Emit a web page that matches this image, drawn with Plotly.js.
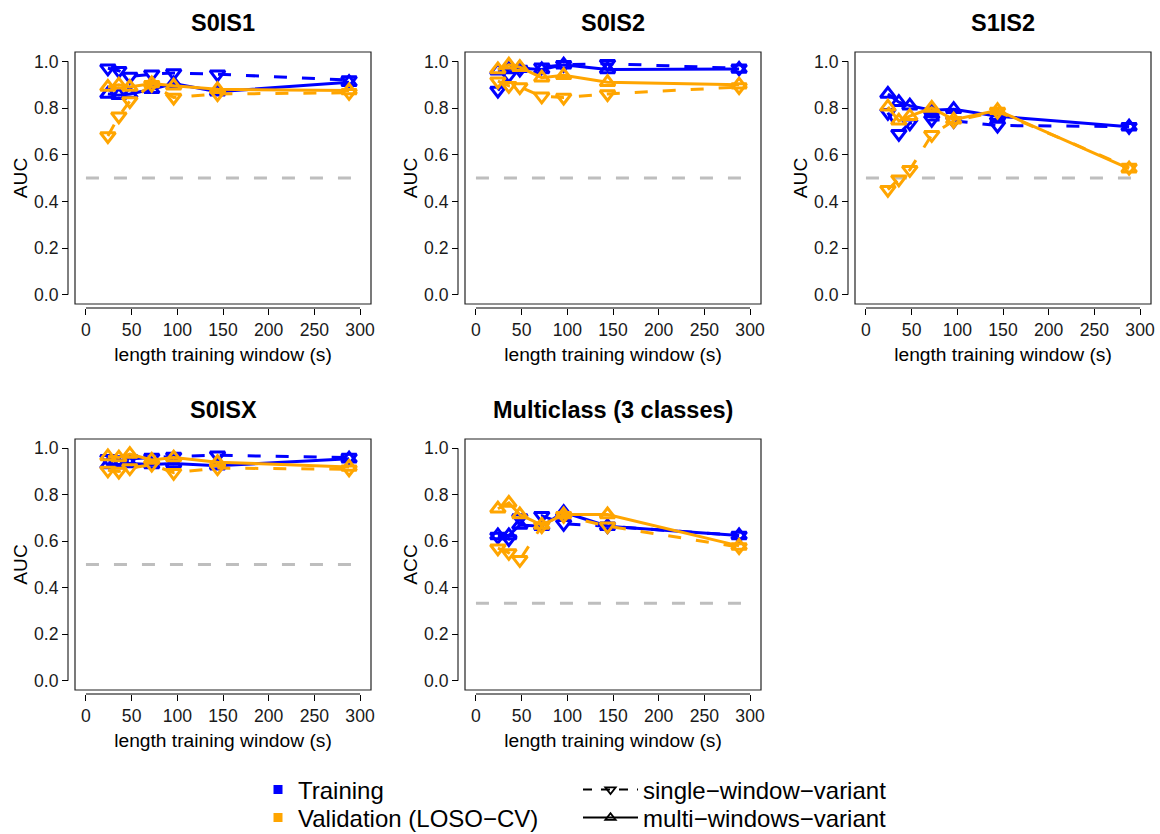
<!DOCTYPE html>
<html>
<head>
<meta charset="utf-8">
<script src="https://cdn.plot.ly/plotly-3.0.1.min.js"></script>
<style>html,body{margin:0;padding:0;background:#fff;}#chart{width:1160px;height:834px;}</style>
</head>
<body>
<div id="chart"></div>
<script>
// ---------------- data ----------------
const windowLengths = [24, 36, 48, 72, 96, 144, 288];
const panelTitles = ['S0IS1', 'S0IS2', 'S1IS2', 'S0ISX', 'Multiclass (3 classes)'];
const yTitles = ['AUC', 'AUC', 'AUC', 'AUC', 'ACC'];
const chanceLevels = [0.5, 0.5, 0.5, 0.5, 0.333];
const xTicks = [0, 50, 100, 150, 200, 250, 300];
const yTicks = [0, 0.2, 0.4, 0.6, 0.8, 1.0];

// Training, single-window-variant
const trainSingle_S0S1 = [0.97, 0.96, 0.935, 0.945, 0.95, 0.945, 0.92];
const trainSingle_S0S2 = [0.875, 0.94, 0.965, 0.975, 0.985, 0.99, 0.97];
const trainSingle_S1S2 = [0.78, 0.69, 0.735, 0.75, 0.745, 0.725, 0.72];
const trainSingle_S0SX = [0.955, 0.95, 0.955, 0.96, 0.965, 0.97, 0.96];
const trainSingle_Multi = [0.62, 0.61, 0.70, 0.71, 0.675, 0.665, 0.625];
// Training, multi-windows-variant
const trainMulti_S0S1 = [0.86, 0.855, 0.86, 0.88, 0.905, 0.87, 0.91];
const trainMulti_S0S2 = [0.96, 0.965, 0.97, 0.965, 0.985, 0.965, 0.967];
const trainMulti_S1S2 = [0.86, 0.825, 0.81, 0.79, 0.795, 0.765, 0.72];
const trainMulti_S0SX = [0.93, 0.93, 0.935, 0.93, 0.935, 0.925, 0.955];
const trainMulti_Multi = [0.625, 0.625, 0.67, 0.665, 0.725, 0.665, 0.625];
// Validation (LOSO-CV), single-window-variant
const valSingle_S0S1 = [0.68, 0.765, 0.83, 0.9, 0.845, 0.86, 0.865];
const valSingle_S0S2 = [0.915, 0.895, 0.89, 0.85, 0.845, 0.86, 0.89];
const valSingle_S1S2 = [0.45, 0.495, 0.535, 0.685, 0.745, 0.785, 0.545];
const valSingle_S0SX = [0.905, 0.9, 0.915, 0.93, 0.895, 0.915, 0.91];
const valSingle_Multi = [0.57, 0.55, 0.52, 0.665, 0.71, 0.665, 0.575];
// Validation (LOSO-CV), multi-windows-variant
const valMulti_S0S1 = [0.89, 0.9, 0.89, 0.905, 0.895, 0.88, 0.875];
const valMulti_S0S2 = [0.965, 0.985, 0.975, 0.93, 0.94, 0.91, 0.9];
const valMulti_S1S2 = [0.805, 0.745, 0.765, 0.8, 0.75, 0.79, 0.54];
const valMulti_S0SX = [0.965, 0.96, 0.975, 0.95, 0.96, 0.94, 0.92];
const valMulti_Multi = [0.74, 0.765, 0.715, 0.67, 0.715, 0.715, 0.58];

const trainSingle = [trainSingle_S0S1, trainSingle_S0S2, trainSingle_S1S2, trainSingle_S0SX, trainSingle_Multi];
const trainMulti = [trainMulti_S0S1, trainMulti_S0S2, trainMulti_S1S2, trainMulti_S0SX, trainMulti_Multi];
const valSingle = [valSingle_S0S1, valSingle_S0S2, valSingle_S1S2, valSingle_S0SX, valSingle_Multi];
const valMulti = [valMulti_S0S1, valMulti_S0S2, valMulti_S1S2, valMulti_S0SX, valMulti_Multi];

const legendGroups = ['Training', 'Validation (LOSO\u2212CV)'];
const legendVariants = ['single\u2212window\u2212variant', 'multi\u2212windows\u2212variant'];

// ---------------- style / layout ----------------
const W = 1160, H = 834;
const BLUE = '#0000FF', ORANGE = '#FFA500', GREY = '#BEBEBE';
const FONT = 'Liberation Sans, Arial, Helvetica, sans-serif';
const DASH = '13px,15px';

// boxes in pixels: [left, right], [top, bottom]
const colPx = [[75, 371], [465, 761], [855, 1151]];
const rowPx = [[52, 304], [439, 690]];
const panelPos = [[0, 0], [0, 1], [0, 2], [1, 0], [1, 1]]; // [row, col]
const titleCenterPx = [23, 410];

const traces = [];
const layout = {
  width: W, height: H,
  margin: {l: 0, r: 0, t: 0, b: 0, pad: 0, autoexpand: false},
  paper_bgcolor: '#fff', plot_bgcolor: '#fff',
  font: {family: FONT, color: '#000'},
  showlegend: true,
  shapes: [], annotations: []
};

panelTitles.forEach((title, i) => {
  const n = i === 0 ? '' : String(i + 1);
  const xa = 'x' + n, ya = 'y' + n;
  const [r, c] = panelPos[i];
  const xd = [colPx[c][0] / W, colPx[c][1] / W];
  const yd = [1 - rowPx[r][1] / H, 1 - rowPx[r][0] / H];
  const xAxisPos = 1 - (rowPx[r][1] + 4) / H;
  const yAxisPos = (colPx[c][0] - 7) / W;

  layout['xaxis' + n] = {
    domain: xd, anchor: 'free', position: xAxisPos,
    range: [-12, 312], tickvals: xTicks, ticktext: xTicks.map(String),
    showgrid: false, zeroline: false, showline: false,
    ticks: 'outside', ticklen: 6, tickwidth: 1, tickcolor: '#000',
    tickfont: {family: FONT, size: 17.6, color: '#1a1a1a'},
    title: {text: 'length training window (s)', font: {family: FONT, size: 19.2, color: '#000'}, standoff: 8}
  };
  layout['yaxis' + n] = {
    domain: yd, anchor: 'free', position: yAxisPos,
    range: [-0.04, 1.04], tickvals: yTicks, ticktext: yTicks.map(v => v.toFixed(1)),
    showgrid: false, zeroline: false, showline: false,
    ticks: 'outside', ticklen: 6, tickwidth: 1, tickcolor: '#000',
    tickfont: {family: FONT, size: 17.6, color: '#1a1a1a'},
    title: {text: yTitles[i], font: {family: FONT, size: 19.2, color: '#000'}, standoff: 0}
  };

  // frame box
  layout.shapes.push({type: 'rect', xref: xa + ' domain', yref: ya + ' domain', x0: 0, x1: 1, y0: 0, y1: 1,
    line: {color: '#222', width: 1.2}, fillcolor: 'rgba(0,0,0,0)', layer: 'above'});
  // detached axis lines (R style)
  layout.shapes.push({type: 'line', xref: xa, yref: 'paper', x0: xTicks[0], x1: xTicks[xTicks.length - 1],
    y0: xAxisPos, y1: xAxisPos, line: {color: '#000', width: 1}});
  layout.shapes.push({type: 'line', xref: 'paper', yref: ya, x0: yAxisPos, x1: yAxisPos,
    y0: yTicks[0], y1: yTicks[yTicks.length - 1], line: {color: '#000', width: 1}});

  // panel title
  layout.annotations.push({text: '<b>' + title + '</b>', xref: 'paper', yref: 'paper',
    x: (xd[0] + xd[1]) / 2, y: 1 - titleCenterPx[r] / H, xanchor: 'center', yanchor: 'middle',
    showarrow: false, font: {family: FONT, size: 23.5, color: '#000'}});

  // chance level
  traces.push({type: 'scatter', mode: 'lines', xaxis: xa, yaxis: ya, showlegend: false, hoverinfo: 'skip',
    x: [xTicks[0], xTicks[xTicks.length - 1]], y: [chanceLevels[i], chanceLevels[i]],
    line: {color: GREY, width: 3, dash: DASH}});

  const series = [
    {y: trainSingle[i], color: BLUE, dash: DASH, sym: 'triangle-down-open'},
    {y: trainMulti[i], color: BLUE, dash: 'solid', sym: 'triangle-up-open'},
    {y: valSingle[i], color: ORANGE, dash: DASH, sym: 'triangle-down-open'},
    {y: valMulti[i], color: ORANGE, dash: 'solid', sym: 'triangle-up-open'}
  ];
  series.forEach(s => {
    traces.push({type: 'scatter', mode: 'lines+markers', xaxis: xa, yaxis: ya, showlegend: false,
      x: windowLengths, y: s.y,
      line: {color: s.color, width: 3, dash: s.dash},
      marker: {symbol: s.sym, size: 13, color: s.color, line: {color: s.color, width: 3}}});
  });
});

// legend entries (one legend per entry for exact placement)
traces.push({type: 'scatter', mode: 'markers', x: [null], y: [null], name: legendGroups[0], legend: 'legend',
  marker: {symbol: 'square', size: 9, color: BLUE}});
traces.push({type: 'scatter', mode: 'markers', x: [null], y: [null], name: legendGroups[1], legend: 'legend2',
  marker: {symbol: 'square', size: 9, color: ORANGE}});
traces.push({type: 'scatter', mode: 'lines+markers', x: [null], y: [null], name: legendVariants[0], legend: 'legend3',
  line: {color: '#000', width: 2, dash: 'dash'}, marker: {symbol: 'triangle-down-open', size: 9, color: '#000', line: {color: '#000', width: 1.8}}});
traces.push({type: 'scatter', mode: 'lines+markers', x: [null], y: [null], name: legendVariants[1], legend: 'legend4',
  line: {color: '#000', width: 2}, marker: {symbol: 'triangle-up-open', size: 9, color: '#000', line: {color: '#000', width: 1.8}}});

const legBase = {xanchor: 'left', yanchor: 'middle', orientation: 'v', bgcolor: 'rgba(0,0,0,0)',
  font: {family: FONT, size: 24, color: '#000'}, borderwidth: 0};
layout.legend = Object.assign({}, legBase, {x: 258 / W, y: 1 - 790 / H});
layout.legend2 = Object.assign({}, legBase, {x: 258 / W, y: 1 - 818 / H});
layout.legend3 = Object.assign({}, legBase, {x: 578 / W, y: 1 - 790 / H, itemwidth: 55});
layout.legend4 = Object.assign({}, legBase, {x: 578 / W, y: 1 - 818 / H, itemwidth: 55});

Plotly.newPlot('chart', traces, layout, {displayModeBar: false, staticPlot: true});
</script>
</body>
</html>
